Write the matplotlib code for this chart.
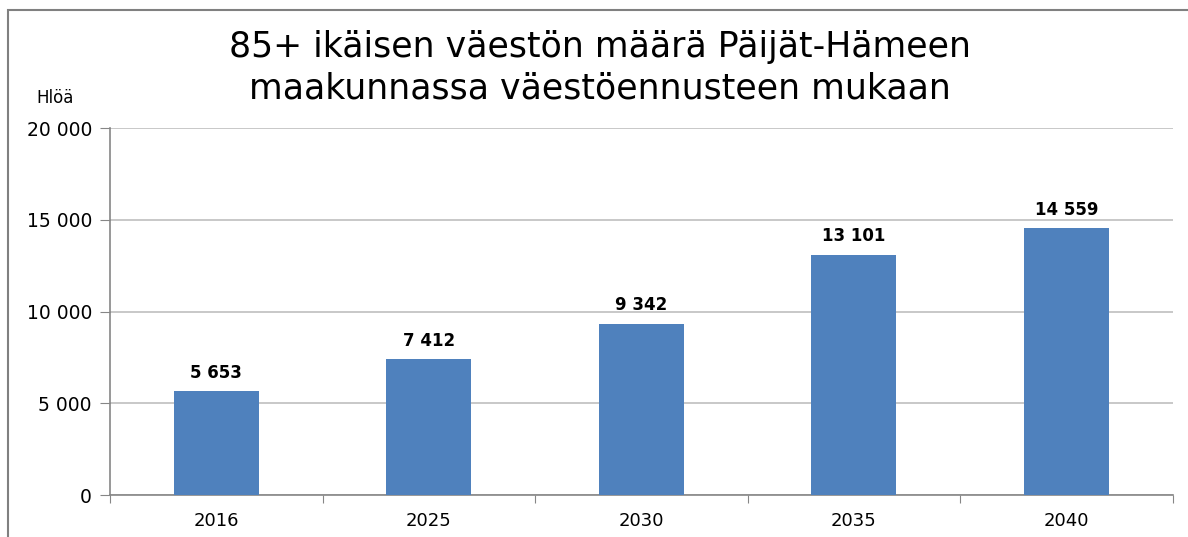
import matplotlib.pyplot as plt
from matplotlib.ticker import FuncFormatter

# data
years = ["2016", "2025", "2030", "2035", "2040"]
counts = [5653, 7412, 9342, 13101, 14559]
yticks = [0, 5000, 10000, 15000, 20000]


def fmt(v, pos=None):
    # finnish style thousands separator
    return f"{int(v):,}".replace(",", " ")


def main():
    fig = plt.figure(figsize=(11.88, 5.37), dpi=100)
    ax = fig.add_axes([0.0926, 0.0782, 0.8944, 0.6834])

    x = range(len(years))
    ax.bar(x, counts, width=0.4, color="#4F81BD", zorder=3)

    for xi, v in zip(x, counts):
        ax.text(xi, v + 500, fmt(v), ha="center", va="bottom",
                fontsize=12, fontweight="bold", color="black")

    ax.set_xlim(-0.5, len(years) - 0.5)
    ax.set_ylim(0, 20000)
    ax.set_yticks(yticks)
    ax.yaxis.set_major_formatter(FuncFormatter(fmt))
    ax.grid(axis="y", color="#BFBFBF", linewidth=1.2, zorder=0)

    # category labels centred, tick marks between categories
    ax.set_xticks([i + 0.5 for i in range(-1, len(years))], minor=False)
    ax.set_xticklabels([])
    ax.set_xticks(list(x), minor=True)
    ax.set_xticklabels(years, minor=True)
    ax.tick_params(axis="x", which="minor", length=0, labelsize=13, pad=12)
    ax.tick_params(axis="x", which="major", length=6, color="#868686")
    ax.tick_params(axis="y", length=7, color="#868686", labelsize=13.5, pad=6)

    for s in ["top", "right"]:
        ax.spines[s].set_visible(False)
    ax.spines["left"].set_color("#868686")
    ax.spines["bottom"].set_color("#868686")
    ax.spines["left"].set_linewidth(1.2)
    ax.spines["bottom"].set_linewidth(1.2)

    fig.text(0.505, 0.874, "85+ ikäisen väestön määrä Päijät-Hämeen\nmaakunnassa väestöennusteen mukaan",
             ha="center", va="center", fontsize=25, linespacing=1.3)
    fig.text(0.046, 0.818, "Hlöä", ha="center", va="center", fontsize=12)

    # outer chart frame (clipped at right and bottom in the reference)
    frame = plt.Rectangle((0.0067, -0.05), 1.05, 0.031 + 1.0, transform=fig.transFigure,
                          fill=False, edgecolor="#808080", linewidth=1.5)
    fig.patches.append(frame)

    fig.savefig("out.png", dpi=100)


if __name__ == "__main__":
    main()
